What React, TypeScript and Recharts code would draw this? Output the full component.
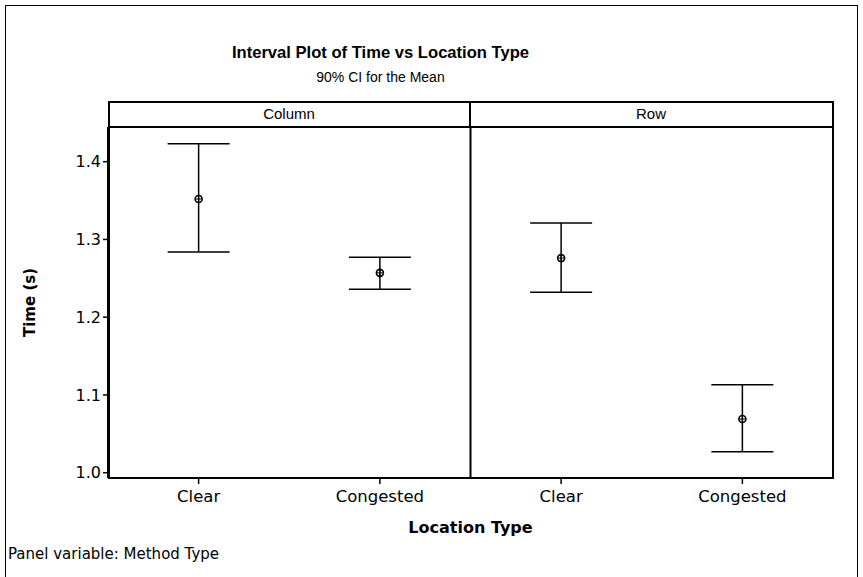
import { ComposedChart, Scatter, ErrorBar, XAxis, YAxis, ReferenceLine } from 'recharts';

// panel / category layout (x positions on a 0..4 numeric axis)
const panels = ['Column', 'Row'];
const locations = ['Clear', 'Congested', 'Clear', 'Congested'];
const xPositions = [0.5, 1.5, 2.5, 3.5];

// 90% CI
const means = [1.352, 1.257, 1.276, 1.069];
const lower = [1.284, 1.236, 1.232, 1.027];
const upper = [1.423, 1.277, 1.321, 1.113];

const yTicks = [1.0, 1.1, 1.2, 1.3, 1.4];

const data = means.map((m, i) => ({
  x: xPositions[i],
  mean: m,
  ci: [m - lower[i], upper[i] - m],
}));

const FONT = 'Tahoma, "DejaVu Sans", Verdana, sans-serif';
const ARIAL = 'Arial, "Liberation Sans", sans-serif';

const CircleCross = (props: any) => {
  const { cx, cy } = props;
  const r = 3.5;
  return (
    <g>
      <circle cx={cx} cy={cy} r={r} fill="none" stroke="#000" strokeWidth={1.6} />
      <line x1={cx - r} y1={cy} x2={cx + r} y2={cy} stroke="#000" strokeWidth={1} />
      <line x1={cx} y1={cy - r} x2={cx} y2={cy + r} stroke="#000" strokeWidth={1} />
    </g>
  );
};

export default function App() {
  return (
    <div style={{ position: 'absolute', left: 0, top: 0, width: 863, height: 577, background: '#fff', overflow: 'hidden', fontFamily: FONT }}>
      {/* outer frame */}
      <div style={{ position: 'absolute', left: 5, top: 5, width: 853, height: 600, border: '1px solid #000', boxSizing: 'border-box' }} />

      <div style={{ position: 'absolute', left: 0, top: 43, width: 761, textAlign: 'center', fontSize: 16.6, fontWeight: 'bold', color: '#000', fontFamily: ARIAL }}>
        Interval Plot of Time vs Location Type
      </div>
      <div style={{ position: 'absolute', left: 0, top: 69, width: 761, textAlign: 'center', fontSize: 14, color: '#000', fontFamily: ARIAL }}>
        90% CI for the Mean
      </div>

      <ComposedChart
        width={863}
        height={577}
        data={data}
        margin={{ top: 127, right: 30, bottom: 69, left: 48 }}
        style={{ position: 'absolute', left: 0, top: 0 }}
      >
        <XAxis
          type="number"
          dataKey="x"
          domain={[0, 4]}
          ticks={xPositions}
          tickFormatter={(v: number) => locations[xPositions.indexOf(v)]}
          height={30}
          axisLine={{ stroke: '#000', strokeWidth: 2 }}
          tickLine={{ stroke: '#000', strokeWidth: 1.5 }}
          tickSize={6}
          tickMargin={6}
          tick={{ fill: '#000', fontSize: 16.5, fontFamily: FONT }}
          label={{ value: 'Location Type', position: 'insideBottom', offset: -25, fill: '#000', fontSize: 16, fontWeight: 'bold', fontFamily: FONT }}
        />
        <YAxis
          type="number"
          domain={[0.9932, 1.4446]}
          ticks={yTicks}
          tickFormatter={(v: number) => v.toFixed(1)}
          width={60}
          axisLine={{ stroke: '#000', strokeWidth: 2 }}
          tickLine={{ stroke: '#000', strokeWidth: 1.5 }}
          tickSize={5}
          tick={{ fill: '#000', fontSize: 16, fontFamily: FONT }}
          label={{ value: 'Time (s)', angle: -90, position: 'insideLeft', offset: -18, fill: '#000', fontSize: 15, fontWeight: 'bold', fontFamily: FONT, style: { textAnchor: 'middle' } }}
        />
        <ReferenceLine x={2} stroke="#000" strokeWidth={2} />
        <Scatter dataKey="mean" shape={CircleCross} isAnimationActive={false}>
          <ErrorBar dataKey="ci" direction="y" width={31} stroke="#000" strokeWidth={1.5} />
        </Scatter>
      </ComposedChart>

      {/* panel strip + outline */}
      <div style={{ position: 'absolute', left: 108, top: 101, width: 726, height: 378, border: '2px solid #000', boxSizing: 'border-box', pointerEvents: 'none' }} />
      <div style={{ position: 'absolute', left: 108, top: 126, width: 726, height: 2, background: '#000' }} />
      <div style={{ position: 'absolute', left: 469, top: 101, width: 2, height: 27, background: '#000' }} />
      {panels.map((p, i) => (
        <div key={p} style={{ position: 'absolute', left: 108 + i * 362, top: 105, width: 362, textAlign: 'center', fontSize: 15, color: '#000', fontFamily: ARIAL }}>
          {p}
        </div>
      ))}

      <div style={{ position: 'absolute', left: 8, top: 545, fontSize: 15, color: '#000' }}>
        Panel variable: Method Type
      </div>
    </div>
  );
}
